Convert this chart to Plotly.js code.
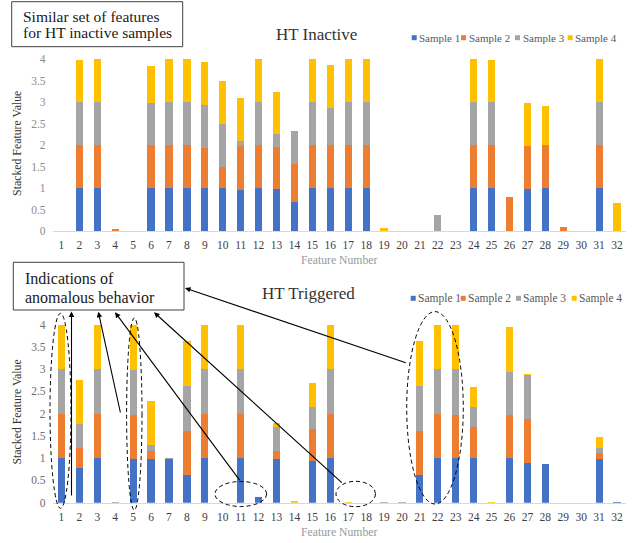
<!DOCTYPE html>
<html>
<head>
<meta charset="utf-8">
<script src="https://cdn.plot.ly/plotly-3.0.1.min.js"></script>
<style>html,body{margin:0;padding:0;background:#fff;}#chart{width:637px;height:543px;}</style>
</head>
<body>
<div id="chart"></div>
<script>
// ---------- data ----------
const features = Array.from({length: 32}, (_, i) => i + 1);
const seriesNames = ['Sample 1', 'Sample 2', 'Sample 3', 'Sample 4'];
const seriesColors = ['#4472C4', '#ED7D31', '#A5A5A5', '#FFC000'];

// HT Inactive (top chart)
const inactiveS1 = [0, 1, 1, 0, 0, 1, 1, 1, 1, 1, 0.96, 1, 0.98, 0.68, 1, 1, 1, 1, 0, 0, 0, 0, 0, 1, 1, 0, 0.97, 1, 0, 0, 1, 0];
const inactiveS2 = [0, 1, 1, 0.05, 0, 1, 1, 1, 0.93, 0.48, 1.02, 1, 0.98, 0.89, 1, 1, 1, 1, 0, 0, 0, 0, 0, 1, 1, 0.78, 1.01, 1, 0.09, 0, 1, 0];
const inactiveS3 = [0, 1, 1, 0, 0.01, 0.97, 1, 1, 1.01, 1.02, 0.11, 1, 0.29, 0.75, 1, 0.86, 1, 1, 0, 0, 0, 0.38, 0, 1, 1, 0, 0, 0, 0, 0, 1, 0];
const inactiveS4 = [0, 0.97, 1, 0, 0, 0.86, 1, 1, 1, 0.99, 1, 1, 0.99, 0, 1, 1.01, 1, 0.99, 0.08, 0, 0, 0, 0, 1, 0.98, 0, 1, 0.9, 0, 0, 1, 0.64];

// HT Triggered (bottom chart)
const triggeredS1 = [1, 0.79, 1, 0, 0.98, 0.98, 0.99, 0.62, 1, 0, 1, 0.12, 0.98, 0, 0.93, 1, 0, 0, 0, 0, 0.62, 1, 1, 1, 0, 1, 0.9, 0.88, 0, 0, 0.98, 0.01];
const triggeredS2 = [1, 0.44, 1, 0, 1, 0.18, 0, 1, 1, 0, 1, 0, 0.19, 0, 0.73, 1, 0, 0, 0, 0, 1, 1, 0.98, 0.71, 0, 0.96, 0.99, 0, 0, 0, 0.14, 0];
const triggeredS3 = [1, 0.53, 1, 0.01, 1.01, 0.13, 0.01, 1, 1, 0, 1, 0, 0.54, 0, 0.5, 1, 0, 0, 0.01, 0.01, 1, 1, 1.02, 0.43, 0, 0.98, 0.99, 0, 0, 0, 0.1, 0];
const triggeredS4 = [1, 1, 1, 0, 1.01, 1, 0, 1.01, 1, 0, 1, 0, 0.07, 0.03, 0.52, 1, 0.01, 0, 0, 0, 1.01, 1, 1, 0.45, 0.01, 1.01, 0.01, 0, 0, 0, 0.25, 0];

const yTickVals = [0, 0.5, 1, 1.5, 2, 2.5, 3, 3.5, 4];
const yTickText = ['0', '0.5', '1', '1.5', '2', '2.5', '3', '3.5', '4'];

const topTitle = 'HT Inactive';
const bottomTitle = 'HT Triggered';
const xTitle = 'Feature Number';
const yTitle = 'Stacked Feature Value';

// ---------- helpers (pixel -> paper, margins are 0) ----------
const W = 637, H = 543;
const px = x => x / W;
const py = y => 1 - y / H;
const SERIF = 'Liberation Serif';

const inactive = [inactiveS1, inactiveS2, inactiveS3, inactiveS4];
const triggered = [triggeredS1, triggeredS2, triggeredS3, triggeredS4];

const traces = [];
inactive.forEach((vals, i) => traces.push({
  type: 'bar', x: features, y: vals, name: seriesNames[i],
  marker: {color: seriesColors[i], line: {width: 0}},
  xaxis: 'x', yaxis: 'y', showlegend: false, hoverinfo: 'x+y+name'
}));
triggered.forEach((vals, i) => traces.push({
  type: 'bar', x: features, y: vals, name: seriesNames[i],
  marker: {color: seriesColors[i], line: {width: 0}},
  xaxis: 'x2', yaxis: 'y2', showlegend: false, hoverinfo: 'x+y+name'
}));

const xDomain = [px(52.5), px(626)];
function xAxis(anchor) {
  return {
    domain: xDomain, anchor: anchor, type: 'linear', range: [0.5, 32.5],
    tickmode: 'array', tickvals: features, ticktext: features.map(String),
    showline: true, linecolor: '#d9d9d9', linewidth: 1, ticks: '',
    showgrid: false, zeroline: false, automargin: false,
    tickfont: {family: SERIF, size: 11.5, color: '#404040'},
    ticklabelstandoff: 3,
    title: {text: xTitle, font: {family: SERIF, size: 11.7, color: '#999999'}, standoff: 6}
  };
}
function yAxis(anchor, dom, tickColor) {
  return {
    domain: dom, anchor: anchor, range: [0, 4.08],
    tickmode: 'array', tickvals: yTickVals, ticktext: yTickText,
    showline: false, ticks: '', showgrid: false, zeroline: false, automargin: false,
    tickfont: {family: SERIF, size: 11.5, color: tickColor},
    ticklabelstandoff: 6,
    title: {text: yTitle, font: {family: SERIF, size: 11.8, color: '#333333'}, standoff: 6}
  };
}

const shapes = [];
const annotations = [];

// titles
annotations.push({text: topTitle, x: px(316.7), y: py(34), xref: 'paper', yref: 'paper',
  showarrow: false, xanchor: 'center', yanchor: 'middle', font: {family: SERIF, size: 17, color: '#333333'}});
annotations.push({text: bottomTitle, x: px(308), y: py(293), xref: 'paper', yref: 'paper',
  showarrow: false, xanchor: 'center', yanchor: 'middle', font: {family: SERIF, size: 17, color: '#333333'}});

// custom legends (square + label)
function legend(squareX, textX, cy, fsize) {
  for (let i = 0; i < 4; i++) {
    shapes.push({type: 'rect', xref: 'paper', yref: 'paper',
      x0: px(squareX[i]), x1: px(squareX[i] + 5), y0: py(cy + 2.5), y1: py(cy - 2.5),
      fillcolor: seriesColors[i], line: {width: 0}});
    annotations.push({text: seriesNames[i], x: px(textX[i]), y: py(cy), xref: 'paper', yref: 'paper',
      showarrow: false, xanchor: 'left', yanchor: 'middle',
      font: {family: SERIF, size: fsize, color: '#595959'}});
  }
}
legend([411.7, 461, 515, 567.7], [417, 466.5, 520.5, 573], 37.7, 11);
legend([410.7, 460.7, 516, 571.7], [416, 466, 521, 577], 298.3, 11.5);

// text boxes
shapes.push({type: 'rect', xref: 'paper', yref: 'paper', x0: px(11.7), x1: px(182.7), y0: py(46.7), y1: py(1.7),
  line: {color: '#404040', width: 1}, fillcolor: 'rgba(255,255,255,0)'});
annotations.push({text: 'Similar set of features', x: px(20.5), y: py(16), xref: 'paper', yref: 'paper',
  showarrow: false, xanchor: 'left', yanchor: 'middle', font: {family: SERIF, size: 15.5, color: '#1a1a1a'}});
annotations.push({text: 'for HT inactive samples', x: px(20.5), y: py(33), xref: 'paper', yref: 'paper',
  showarrow: false, xanchor: 'left', yanchor: 'middle', font: {family: SERIF, size: 15.5, color: '#1a1a1a'}});

shapes.push({type: 'rect', xref: 'paper', yref: 'paper', x0: px(13.3), x1: px(184), y0: py(310), y1: py(262.3),
  line: {color: '#404040', width: 1}, fillcolor: 'rgba(255,255,255,0)'});
annotations.push({text: 'Indications of', x: px(22.5), y: py(278), xref: 'paper', yref: 'paper',
  showarrow: false, xanchor: 'left', yanchor: 'middle', font: {family: SERIF, size: 16, color: '#1a1a1a'}});
annotations.push({text: 'anomalous behavior', x: px(22.5), y: py(297.7), xref: 'paper', yref: 'paper',
  showarrow: false, xanchor: 'left', yanchor: 'middle', font: {family: SERIF, size: 16, color: '#1a1a1a'}});

// dashed ellipses
[[60.5, 410.8, 10.5, 97.5], [134.3, 414, 7.7, 96], [240.8, 494, 25.8, 12.5],
 [355.7, 494, 19.7, 12.7], [435, 407.8, 28.3, 96.2]].forEach(([cx, cy, rx, ry]) => {
  shapes.push({type: 'circle', xref: 'paper', yref: 'paper',
    x0: px(cx - rx), x1: px(cx + rx), y0: py(cy + ry), y1: py(cy - ry),
    line: {color: '#000000', width: 1, dash: '4px,3px'}});
});

// arrows: head at the text box, tail at the ellipses
[[71.5, 311.5, 71.5, 497], [98.3, 311.7, 120.7, 414], [115, 312.3, 240.7, 481.7],
 [154, 312.3, 343.3, 484], [185, 288, 407.3, 363.3]].forEach(([hx, hy, tx, ty]) => {
  annotations.push({text: '', x: px(hx), y: py(hy), xref: 'paper', yref: 'paper',
    ax: tx - hx, ay: ty - hy, axref: 'pixel', ayref: 'pixel', showarrow: true,
    arrowhead: 2, arrowsize: 1, arrowwidth: 1.1, arrowcolor: '#000000', standoff: 0, startstandoff: 0});
});

const layout = {
  width: W, height: H,
  margin: {l: 0, r: 0, t: 0, b: 0, pad: 0},
  paper_bgcolor: '#ffffff', plot_bgcolor: 'rgba(0,0,0,0)',
  barmode: 'stack', bargap: 0.6,
  showlegend: false,
  xaxis: xAxis('y'),
  yaxis: yAxis('x', [py(231), py(55.6)], '#8c8c8c'),
  xaxis2: xAxis('y2'),
  yaxis2: yAxis('x2', [py(502.7), py(321.1)], '#6e6e6e'),
  shapes: shapes,
  annotations: annotations,
  font: {family: SERIF}
};

Plotly.newPlot('chart', traces, layout, {staticPlot: true, displayModeBar: false});
</script>
</body>
</html>
